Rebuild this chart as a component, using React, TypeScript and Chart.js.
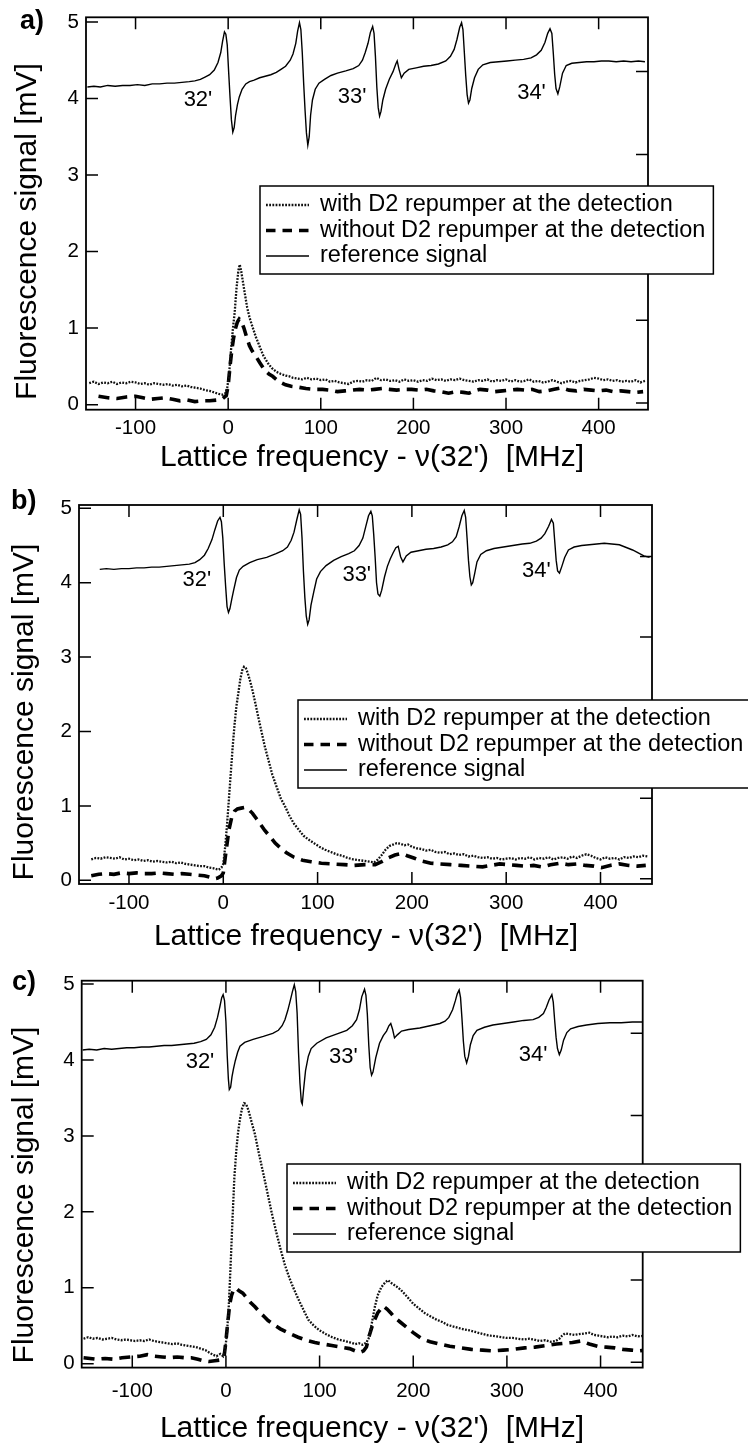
import React, { useEffect, useRef } from 'react';
import { Chart, registerables } from 'chart.js';

Chart.register(...registerables);

type Pt = [number, number];

// ---- axis ticks and legend text ----
const FREQ_TICKS = [-100, 0, 100, 200, 300, 400];
const SIGNAL_TICKS = [0, 1, 2, 3, 4, 5];
const REF_AXIS_TICKS = [0, 1, 2, 3, 4];
const REF_AXIS_ZERO = 0.02; // mV position of the reference axis zero
const REF_AXIS_UNIT = 1.083; // mV per reference-axis unit
const LEGEND_LABELS = [
  'with D2 repumper at the detection',
  'without D2 repumper at the detection',
  'reference signal',
];
const PEAK_LABELS = ["32'", "33'", "34'"];
const X_TITLE = "Lattice frequency - \u03bd(32')  [MHz]";
const Y_TITLE = 'Fluorescence signal [mV]';

// ---- panel a ----
const REF_A: Pt[] = [[-152,4.15],[-145,4.16],[-138,4.15],[-130,4.17],[-122,4.16],[-114,4.17],[-106,4.17],[-98,4.18],[-90,4.17],[-82,4.19],[-74,4.19],[-66,4.2],[-58,4.2],[-50,4.21],[-42,4.22],[-36,4.23],[-30,4.25],[-25,4.28],[-20,4.31],[-15,4.37],[-11,4.47],[-8,4.6],[-6,4.75],[-4,4.87],[-2.5,4.84],[-1,4.7],[0.5,4.35],[2,4.02],[3.5,3.72],[5,3.56],[6.5,3.62],[8,3.78],[10,3.92],[12,4.02],[15,4.12],[19,4.19],[23,4.22],[28,4.24],[34,4.27],[40,4.29],[46,4.31],[52,4.34],[57,4.38],[62,4.42],[67,4.5],[70,4.58],[73,4.72],[75,4.88],[77,4.99],[78.5,4.9],[80,4.6],[81.5,4.2],[83,3.85],[84.5,3.55],[86,3.39],[87.5,3.5],[89,3.78],[91,3.98],[94,4.12],[98,4.2],[104,4.25],[111,4.3],[118,4.33],[127,4.36],[135,4.39],[141,4.43],[145,4.5],[148,4.6],[151,4.72],[153.5,4.86],[156,4.94],[157.5,4.85],[159,4.55],[160.5,4.15],[162,3.88],[163.5,3.77],[165,3.83],[167,3.98],[170,4.12],[174,4.25],[178,4.35],[181,4.45],[182.5,4.49],[184.5,4.38],[187,4.27],[190,4.33],[195,4.38],[203,4.4],[211,4.42],[219,4.43],[227,4.45],[235,4.49],[240,4.55],[244,4.64],[247,4.77],[250,4.93],[252,4.99],[253.5,4.9],[255,4.6],[256.5,4.3],[258,4.05],[259.5,3.94],[261,3.98],[263,4.13],[266,4.27],[270,4.38],[275,4.44],[283,4.47],[292,4.48],[301,4.49],[310,4.5],[319,4.51],[327,4.53],[333,4.57],[338,4.63],[342,4.73],[345,4.85],[347.5,4.91],[349.5,4.85],[351,4.6],[352.5,4.32],[354,4.13],[356,4.06],[358,4.15],[361,4.33],[365,4.43],[371,4.46],[379,4.47],[387,4.48],[395,4.48],[403,4.49],[411,4.49],[419,4.48],[427,4.49],[435,4.48],[443,4.49],[450,4.48]];
const WITH_A: Pt[] = [[-150,0.28],[-145,0.3],[-140,0.27],[-135,0.29],[-130,0.28],[-125,0.3],[-120,0.27],[-115,0.29],[-110,0.28],[-105,0.3],[-100,0.29],[-95,0.27],[-90,0.28],[-85,0.26],[-80,0.28],[-75,0.27],[-70,0.26],[-65,0.27],[-60,0.25],[-55,0.26],[-50,0.24],[-45,0.25],[-40,0.23],[-35,0.22],[-30,0.21],[-25,0.19],[-20,0.18],[-15,0.16],[-10,0.14],[-6,0.13],[-3,0.15],[-1,0.22],[1,0.4],[3,0.7],[5,0.98],[7,1.2],[9,1.52],[11,1.75],[12.5,1.83],[14,1.75],[16,1.6],[18,1.45],[20.5,1.27],[23,1.14],[27,0.99],[30,0.88],[34,0.76],[38,0.64],[43,0.54],[47,0.48],[52,0.43],[57,0.4],[62,0.38],[66,0.37],[70,0.35],[75,0.34],[80,0.33],[85,0.35],[90,0.33],[95,0.34],[100,0.32],[105,0.33],[110,0.3],[115,0.31],[120,0.29],[125,0.28],[130,0.27],[135,0.3],[140,0.31],[145,0.3],[150,0.32],[155,0.31],[160,0.35],[165,0.32],[170,0.33],[175,0.31],[180,0.32],[185,0.3],[190,0.33],[195,0.31],[200,0.32],[205,0.3],[210,0.32],[215,0.31],[220,0.34],[225,0.32],[230,0.33],[235,0.31],[240,0.33],[245,0.32],[250,0.34],[255,0.32],[260,0.31],[265,0.3],[270,0.32],[275,0.31],[280,0.33],[285,0.3],[290,0.32],[295,0.31],[300,0.33],[305,0.3],[310,0.32],[315,0.3],[320,0.31],[325,0.33],[330,0.3],[335,0.31],[340,0.29],[345,0.3],[350,0.32],[355,0.3],[360,0.28],[365,0.3],[370,0.31],[375,0.29],[380,0.31],[385,0.32],[390,0.33],[395,0.35],[400,0.34],[405,0.32],[410,0.33],[415,0.31],[420,0.32],[425,0.3],[430,0.31],[435,0.3],[440,0.32],[445,0.29],[450,0.31]];
const WITHOUT_A: Pt[] = [[-140,0.11],[-130,0.09],[-120,0.08],[-110,0.1],[-100,0.11],[-92,0.09],[-84,0.07],[-76,0.08],[-68,0.09],[-60,0.07],[-52,0.05],[-44,0.06],[-36,0.04],[-28,0.05],[-20,0.05],[-12,0.06],[-6,0.08],[-2,0.12],[0,0.25],[2,0.5],[4,0.72],[6,0.88],[8,1.0],[10,1.08],[12,1.12],[14,1.1],[17,1.0],[20,0.88],[23,0.77],[26,0.7],[30,0.63],[34,0.55],[39,0.46],[44,0.4],[48,0.37],[53,0.32],[57,0.29],[62,0.26],[68,0.24],[75,0.23],[84,0.21],[93,0.2],[102,0.2],[110,0.19],[118,0.17],[126,0.18],[134,0.19],[142,0.2],[150,0.19],[158,0.2],[166,0.21],[174,0.2],[182,0.19],[190,0.2],[198,0.2],[206,0.19],[214,0.2],[222,0.18],[230,0.17],[238,0.15],[246,0.17],[254,0.16],[260,0.15],[266,0.18],[272,0.2],[280,0.19],[288,0.17],[296,0.18],[304,0.19],[312,0.2],[320,0.19],[328,0.2],[336,0.17],[344,0.18],[352,0.2],[360,0.22],[368,0.19],[376,0.18],[384,0.2],[392,0.19],[400,0.18],[408,0.19],[416,0.17],[424,0.18],[432,0.17],[440,0.16],[448,0.17]];
const PEAK_POS_A: Pt[] = [[-32.6,3.98],[133.7,4.02],[327.5,4.07]];

// ---- panel b ----
const REF_B: Pt[] = [[-131,4.18],[-124,4.19],[-116,4.18],[-108,4.19],[-100,4.19],[-92,4.2],[-84,4.2],[-76,4.21],[-68,4.21],[-60,4.22],[-52,4.23],[-44,4.24],[-36,4.25],[-30,4.27],[-25,4.31],[-20,4.37],[-16,4.46],[-12,4.58],[-9,4.71],[-6,4.83],[-3.5,4.88],[-2,4.82],[-0.5,4.6],[1,4.25],[2.5,3.95],[4,3.68],[5.5,3.6],[7,3.65],[9,3.78],[11,3.9],[14,4.07],[17,4.17],[21,4.22],[28,4.27],[36,4.31],[46,4.34],[56,4.39],[63,4.43],[68,4.48],[72,4.57],[75,4.68],[78,4.85],[80.5,4.98],[82,4.92],[83.5,4.6],[85,4.15],[86.5,3.8],[88,3.55],[89.5,3.44],[91,3.5],[93,3.7],[96,3.88],[99,4.05],[103,4.15],[109,4.23],[117,4.3],[125,4.35],[133,4.39],[139,4.43],[144,4.5],[148,4.6],[151,4.75],[154,4.9],[156.5,4.96],[158,4.9],[159.5,4.65],[161,4.35],[162.5,4.0],[164,3.85],[166,3.82],[168,3.9],[171,4.08],[174,4.22],[177,4.32],[180,4.4],[183,4.47],[185.5,4.49],[188,4.35],[190.5,4.28],[194,4.36],[199,4.41],[207,4.43],[215,4.45],[223,4.46],[231,4.48],[238,4.51],[243,4.55],[247,4.62],[250,4.75],[253,4.9],[255.5,4.97],[257,4.88],[258.5,4.6],[260,4.3],[261.5,4.08],[263,3.97],[264.5,4.0],[266.5,4.12],[269,4.28],[273,4.38],[279,4.43],[287,4.46],[297,4.48],[307,4.5],[317,4.52],[325,4.53],[332,4.56],[337,4.6],[341,4.66],[345,4.76],[348,4.85],[350,4.8],[351.5,4.55],[353,4.3],[354.5,4.16],[356.5,4.13],[359,4.22],[362,4.34],[366,4.44],[372,4.48],[380,4.5],[388,4.51],[396,4.52],[404,4.53],[412,4.52],[420,4.51],[428,4.47],[434,4.44],[440,4.4],[446,4.36],[452,4.34]];
const WITH_B: Pt[] = [[-140,0.28],[-135,0.3],[-130,0.29],[-125,0.31],[-120,0.3],[-115,0.29],[-110,0.31],[-105,0.28],[-100,0.29],[-95,0.27],[-90,0.28],[-85,0.26],[-80,0.27],[-75,0.25],[-70,0.26],[-65,0.25],[-60,0.24],[-55,0.25],[-50,0.23],[-45,0.24],[-40,0.22],[-35,0.21],[-30,0.2],[-25,0.19],[-20,0.19],[-15,0.17],[-10,0.16],[-5,0.14],[-2,0.17],[0,0.22],[2,0.45],[4,0.75],[6,1.1],[8,1.45],[10,1.8],[12,2.1],[14,2.35],[16,2.52],[18,2.7],[20,2.82],[22,2.87],[24,2.85],[26,2.78],[28,2.7],[31,2.55],[34,2.38],[37,2.2],[41,1.97],[44,1.8],[48,1.61],[52,1.42],[57,1.24],[61,1.1],[66,0.98],[70,0.87],[75,0.76],[80,0.68],[85,0.6],[90,0.55],[96,0.5],[102,0.45],[108,0.41],[114,0.38],[120,0.35],[126,0.33],[132,0.3],[138,0.28],[144,0.27],[150,0.26],[155,0.25],[160,0.24],[164,0.28],[168,0.34],[172,0.41],[176,0.46],[180,0.48],[184,0.5],[188,0.49],[192,0.47],[196,0.48],[200,0.45],[205,0.43],[210,0.42],[215,0.4],[220,0.41],[225,0.38],[230,0.37],[235,0.38],[240,0.35],[245,0.36],[250,0.34],[255,0.35],[260,0.32],[265,0.33],[270,0.31],[275,0.3],[280,0.31],[285,0.29],[290,0.3],[295,0.28],[300,0.29],[305,0.3],[310,0.28],[315,0.3],[320,0.29],[325,0.31],[330,0.28],[335,0.3],[340,0.29],[345,0.31],[350,0.28],[355,0.3],[360,0.31],[365,0.29],[370,0.32],[375,0.3],[380,0.33],[385,0.35],[390,0.33],[395,0.3],[400,0.28],[405,0.31],[410,0.29],[415,0.3],[420,0.28],[425,0.31],[430,0.3],[435,0.32],[440,0.31],[445,0.33],[450,0.32]];
const WITHOUT_B: Pt[] = [[-140,0.06],[-132,0.08],[-124,0.09],[-116,0.08],[-108,0.1],[-100,0.09],[-92,0.1],[-84,0.09],[-76,0.09],[-68,0.1],[-60,0.09],[-52,0.08],[-44,0.09],[-36,0.08],[-28,0.07],[-20,0.06],[-14,0.04],[-10,0.02],[-6,0.03],[-2,0.06],[0,0.1],[2,0.3],[4,0.49],[6,0.68],[9,0.85],[12,0.93],[15,0.96],[19,0.97],[23,0.98],[27,0.95],[31,0.9],[35,0.83],[39,0.76],[44,0.67],[50,0.58],[55,0.5],[61,0.43],[67,0.37],[75,0.31],[84,0.27],[93,0.25],[104,0.23],[116,0.22],[128,0.21],[139,0.2],[150,0.21],[161,0.21],[168,0.25],[175,0.3],[182,0.34],[189,0.36],[195,0.33],[202,0.3],[210,0.26],[220,0.23],[230,0.22],[241,0.21],[252,0.2],[263,0.19],[275,0.18],[284,0.2],[293,0.22],[302,0.21],[311,0.2],[320,0.19],[329,0.2],[338,0.18],[347,0.21],[357,0.23],[366,0.21],[375,0.22],[384,0.2],[393,0.19],[401,0.17],[410,0.2],[420,0.22],[430,0.2],[439,0.19],[448,0.2]];
const PEAK_POS_B: Pt[] = [[-28,4.04],[141.5,4.1],[332,4.16]];

// ---- panel c ----
const REF_C: Pt[] = [[-153,4.13],[-146,4.14],[-138,4.13],[-130,4.15],[-122,4.14],[-114,4.15],[-106,4.16],[-98,4.16],[-90,4.17],[-82,4.17],[-74,4.18],[-66,4.19],[-58,4.19],[-50,4.2],[-42,4.21],[-34,4.22],[-27,4.24],[-21,4.27],[-16,4.33],[-12,4.43],[-9,4.56],[-6.5,4.7],[-4.5,4.82],[-3,4.86],[-1.5,4.78],[0,4.5],[1.4,4.05],[2.6,3.75],[3.6,3.61],[5,3.64],[6.5,3.78],[8,3.88],[10,3.99],[12.5,4.1],[15,4.18],[20,4.23],[29,4.27],[40,4.31],[50,4.35],[56,4.39],[60,4.45],[63,4.53],[66,4.65],[68.5,4.77],[71,4.9],[73,4.99],[74.5,4.9],[76,4.62],[77.5,4.1],[79,3.7],[80.5,3.45],[81.5,3.42],[83,3.62],[85,3.86],[88,4.05],[91,4.15],[97,4.22],[107,4.29],[118,4.34],[129,4.39],[135,4.45],[139.5,4.53],[142.5,4.66],[145,4.83],[148,4.93],[149.5,4.85],[151,4.6],[152.5,4.2],[154,3.9],[155.5,3.8],[157,3.84],[160,4.03],[164,4.22],[168,4.32],[171.5,4.38],[174,4.45],[176,4.48],[178,4.4],[180,4.29],[183,4.33],[187.5,4.38],[195,4.4],[207,4.42],[218,4.45],[228.5,4.48],[234,4.51],[238,4.56],[242,4.66],[245,4.78],[247,4.87],[249,4.92],[250.5,4.82],[252,4.55],[253.5,4.25],[255,4.05],[257,3.96],[259,4.05],[261,4.2],[264,4.32],[268,4.39],[276,4.43],[285,4.46],[296,4.48],[307,4.5],[318,4.52],[328,4.53],[334,4.56],[339,4.61],[342,4.69],[345,4.79],[348,4.86],[349.5,4.76],[351,4.52],[352.5,4.3],[354,4.15],[356,4.07],[358,4.13],[360.5,4.26],[364,4.36],[368,4.41],[376,4.44],[385,4.46],[397,4.48],[410,4.49],[422,4.49],[434,4.5],[445,4.5]];
const WITH_C: Pt[] = [[-152,0.33],[-147,0.35],[-142,0.33],[-137,0.34],[-132,0.32],[-127,0.33],[-122,0.34],[-117,0.32],[-112,0.31],[-107,0.32],[-102,0.31],[-97,0.3],[-92,0.31],[-87,0.3],[-82,0.32],[-77,0.3],[-72,0.29],[-67,0.28],[-62,0.27],[-57,0.26],[-52,0.27],[-47,0.25],[-42,0.24],[-37,0.23],[-32,0.22],[-27,0.2],[-22,0.18],[-18,0.15],[-14,0.12],[-10,0.1],[-6,0.13],[-3,0.1],[-1,0.18],[1,0.38],[3,0.75],[5,1.3],[7,1.9],[9,2.45],[11,2.8],[13,3.05],[15,3.22],[17,3.35],[19.5,3.43],[21.5,3.42],[24,3.34],[27,3.2],[31,3.02],[35,2.78],[40,2.5],[44,2.27],[49,1.98],[54,1.72],[58.5,1.5],[63,1.3],[67.5,1.14],[72,1.0],[77,0.86],[82,0.73],[88,0.58],[94,0.5],[100,0.44],[107,0.39],[113.5,0.35],[120,0.32],[127,0.3],[133,0.28],[138,0.26],[142,0.27],[146,0.25],[150,0.28],[153,0.35],[156,0.55],[159,0.75],[162,0.9],[166,1.01],[170,1.07],[173,1.1],[177,1.06],[182,1.02],[187,0.97],[193,0.89],[200,0.79],[206,0.73],[212,0.67],[219,0.62],[225,0.58],[231,0.55],[237,0.51],[243,0.49],[249,0.47],[255,0.45],[260,0.44],[266,0.42],[272,0.4],[278,0.38],[283,0.37],[289,0.36],[295,0.35],[300,0.34],[306,0.34],[312,0.33],[318,0.32],[324,0.33],[329,0.32],[335,0.3],[341,0.31],[347,0.29],[352,0.3],[356,0.33],[359,0.37],[362,0.4],[367,0.39],[372,0.38],[377,0.39],[383,0.4],[388,0.41],[393,0.38],[398,0.37],[403,0.36],[408,0.35],[413,0.36],[418,0.35],[424,0.37],[429,0.36],[434,0.38],[440,0.36],[446,0.37],[450,0.38]];
const WITHOUT_C: Pt[] = [[-152,0.08],[-145,0.07],[-138,0.06],[-129,0.07],[-120,0.06],[-111,0.08],[-102,0.09],[-92,0.1],[-84,0.12],[-76,0.1],[-68,0.09],[-60,0.08],[-52,0.09],[-44,0.08],[-37,0.08],[-30,0.06],[-24,0.04],[-18,0.03],[-12,0.04],[-6,0.05],[-2,0.09],[0,0.3],[2,0.55],[4,0.78],[6,0.9],[8,0.97],[10.5,1.0],[14,0.96],[18,0.93],[22,0.87],[26,0.81],[31,0.75],[36,0.68],[41,0.62],[45,0.57],[52,0.51],[58,0.46],[66,0.41],[77,0.35],[86,0.31],[95,0.28],[104,0.26],[113,0.24],[122,0.22],[132,0.2],[138,0.17],[143,0.15],[147,0.17],[150,0.22],[153,0.37],[157,0.53],[162,0.67],[168,0.76],[172,0.72],[176,0.67],[180,0.61],[186,0.55],[193,0.48],[200,0.41],[209,0.33],[218,0.29],[228,0.26],[239,0.23],[251,0.21],[262,0.19],[274,0.18],[285,0.17],[296,0.18],[307,0.19],[319,0.21],[330,0.22],[342,0.24],[353,0.26],[361,0.27],[370,0.28],[379,0.3],[388,0.26],[397,0.23],[406,0.22],[415,0.21],[424,0.19],[433,0.18],[441,0.17],[448,0.18]];
const PEAK_POS_C: Pt[] = [[-27.7,3.98],[125.4,4.04],[328,4.07]];

// ---- layout ----
const PAGE_W = 748;
const FAMILY = "'Liberation Sans', Arial, Helvetica, sans-serif";
const TICK_LEN = 12;
const font = (size: number, bold = false) => `${bold ? 'bold ' : ''}${size}px ${FAMILY}`;

interface PanelCfg {
  label: string;
  canvasTop: number;
  canvasH: number;
  area: { left: number; right: number; top: number; bottom: number };
  xRange: [number, number];
  yRange: [number, number];
  ref: Pt[];
  withRep: Pt[];
  withoutRep: Pt[];
  peakPos: Pt[];
  legend: { left: number; top: number };
  yTitle: { x: number; y: number };
  xTitle: { x: number; y: number };
  tickPad: number;
  panelLabel: { x: number; y: number };
}

const PANELS: PanelCfg[] = [
  {
    label: 'a)', canvasTop: 0, canvasH: 480,
    area: { left: 86, right: 648, top: 17.3, bottom: 409.7 },
    xRange: [-153.5, 453.3], yRange: [-0.066, 5.06],
    ref: REF_A, withRep: WITH_A, withoutRep: WITHOUT_A, peakPos: PEAK_POS_A,
    legend: { left: 260, top: 186 }, yTitle: { x: 27.5, y: 231.5 }, xTitle: { x: 372, y: 458 },
    tickPad: 8, panelLabel: { x: 20, y: 22 },
  },
  {
    label: 'b)', canvasTop: 480, canvasH: 480,
    area: { left: 79, right: 652, top: 25, bottom: 404 },
    xRange: [-153, 454.6], yRange: [-0.05, 5.045],
    ref: REF_B, withRep: WITH_B, withoutRep: WITHOUT_B, peakPos: PEAK_POS_B,
    legend: { left: 298, top: 220 }, yTitle: { x: 24.5, y: 232 }, xTitle: { x: 366, y: 457 },
    tickPad: 9, panelLabel: { x: 11, y: 22 },
  },
  {
    label: 'c)', canvasTop: 960, canvasH: 485,
    area: { left: 81.7, right: 642.7, top: 20.7, bottom: 407.6 },
    xRange: [-154, 445], yRange: [-0.05, 5.043],
    ref: REF_C, withRep: WITH_C, withoutRep: WITHOUT_C, peakPos: PEAK_POS_C,
    legend: { left: 287, top: 204 }, yTitle: { x: 24.5, y: 235 }, xTitle: { x: 372, y: 469 },
    tickPad: 13, panelLabel: { x: 12, y: 23 },
  },
];

const WITH_STYLE = { color: '#111', width: 2.3, dash: [1.8, 1.4] };
const WITHOUT_STYLE = { color: '#000', width: 3.6, dash: [11, 7] };
const REF_STYLE = { color: '#000', width: 1.4, dash: [] as number[] };

const toXY = (pts: Pt[]) => pts.map(([x, y]) => ({ x, y }));

function makeDecor(cfg: PanelCfg) {
  return {
    id: 'panelDecor',
    afterDraw(chart: any) {
      const { ctx, chartArea: a, scales } = chart;
      const xs = scales.x, ys = scales.y, y2 = scales.y2;
      ctx.save();
      ctx.strokeStyle = '#000';
      ctx.fillStyle = '#000';

      // inward tick marks on all four sides
      ctx.lineWidth = 1.5;
      ctx.beginPath();
      for (const t of xs.ticks) {
        const px = xs.getPixelForValue(t.value);
        ctx.moveTo(px, a.bottom); ctx.lineTo(px, a.bottom - TICK_LEN);
        ctx.moveTo(px, a.top); ctx.lineTo(px, a.top + TICK_LEN);
      }
      for (const t of ys.ticks) {
        const py = ys.getPixelForValue(t.value);
        ctx.moveTo(a.left, py); ctx.lineTo(a.left + TICK_LEN, py);
      }
      for (const t of y2.ticks) {
        const py = y2.getPixelForValue(t.value);
        ctx.moveTo(a.right, py); ctx.lineTo(a.right - TICK_LEN, py);
      }
      ctx.stroke();

      // frame
      ctx.lineWidth = 1.8;
      ctx.strokeRect(a.left, a.top, a.right - a.left, a.bottom - a.top);

      // peak annotations
      ctx.font = font(22);
      ctx.textAlign = 'center';
      ctx.textBaseline = 'middle';
      cfg.peakPos.forEach(([vx, vy], i) => {
        ctx.fillText(PEAK_LABELS[i], xs.getPixelForValue(vx), ys.getPixelForValue(vy));
      });

      // legend
      ctx.font = font(23.5);
      const textW = Math.max(...LEGEND_LABELS.map((s) => ctx.measureText(s).width));
      const lx = cfg.legend.left, ly = cfg.legend.top;
      const bw = 60 + textW + 8, bh = 88;
      ctx.fillStyle = '#fff';
      ctx.fillRect(lx, ly, bw, bh);
      ctx.lineWidth = 1.5;
      ctx.strokeStyle = '#000';
      ctx.strokeRect(lx, ly, bw, bh);
      const rows = [19, 44.5, 70];
      const styles = [WITH_STYLE, WITHOUT_STYLE, REF_STYLE];
      rows.forEach((dy, i) => {
        const st = styles[i];
        const yy = ly + dy;
        ctx.save();
        ctx.strokeStyle = st.color;
        ctx.lineWidth = i === 2 ? 1.3 : st.width;
        ctx.setLineDash(i === 1 ? [9.5, 7] : st.dash);
        ctx.beginPath();
        ctx.moveTo(lx + 6, yy);
        ctx.lineTo(lx + 49, yy);
        ctx.stroke();
        ctx.restore();
        ctx.fillStyle = '#000';
        ctx.textAlign = 'left';
        ctx.textBaseline = 'middle';
        ctx.fillText(LEGEND_LABELS[i], lx + 60, yy);
      });

      // axis titles
      ctx.fillStyle = '#000';
      ctx.font = font(30);
      ctx.textAlign = 'center';
      ctx.textBaseline = 'middle';
      ctx.fillText(X_TITLE, cfg.xTitle.x, cfg.xTitle.y);
      ctx.save();
      ctx.translate(cfg.yTitle.x, cfg.yTitle.y);
      ctx.rotate(-Math.PI / 2);
      ctx.fillText(Y_TITLE, 0, 0);
      ctx.restore();

      // panel letter
      ctx.font = font(27, true);
      ctx.textAlign = 'left';
      ctx.fillText(cfg.label, cfg.panelLabel.x, cfg.panelLabel.y);
      ctx.restore();
    },
  };
}

function Panel({ cfg }: { cfg: PanelCfg }) {
  const ref = useRef<HTMLCanvasElement>(null);
  useEffect(() => {
    const canvas = ref.current;
    if (!canvas) return;
    const { area, canvasH } = cfg;
    const tickFont = { family: FAMILY, size: 20.5, lineHeight: 1 };
    const chart = new Chart(canvas, {
      type: 'scatter',
      data: {
        datasets: [
          {
            label: LEGEND_LABELS[2], data: toXY(cfg.ref), showLine: true, pointRadius: 0,
            borderColor: REF_STYLE.color, borderWidth: REF_STYLE.width, tension: 0,
          },
          {
            label: LEGEND_LABELS[0], data: toXY(cfg.withRep), showLine: true, pointRadius: 0,
            borderColor: WITH_STYLE.color, borderWidth: WITH_STYLE.width, borderDash: WITH_STYLE.dash, tension: 0,
          },
          {
            label: LEGEND_LABELS[1], data: toXY(cfg.withoutRep), showLine: true, pointRadius: 0,
            borderColor: WITHOUT_STYLE.color, borderWidth: WITHOUT_STYLE.width, borderDash: WITHOUT_STYLE.dash,
            borderCapStyle: 'butt', tension: 0,
          },
        ],
      } as any,
      options: {
        responsive: false,
        animation: false,
        devicePixelRatio: 1,
        events: [],
        layout: {
          padding: { left: 0, top: area.top, right: PAGE_W - area.right, bottom: 0 },
        },
        plugins: { legend: { display: false }, tooltip: { enabled: false }, title: { display: false } },
        scales: {
          x: {
            type: 'linear', position: 'bottom', min: cfg.xRange[0], max: cfg.xRange[1],
            grid: { display: false, drawTicks: false }, border: { display: false },
            ticks: { font: tickFont, color: '#000', padding: cfg.tickPad, maxRotation: 0, autoSkip: false },
            afterBuildTicks: (s: any) => { s.ticks = FREQ_TICKS.map((v) => ({ value: v })); },
            afterFit: (s: any) => { s.height = canvasH - area.bottom; },
          },
          y: {
            type: 'linear', position: 'left', min: cfg.yRange[0], max: cfg.yRange[1],
            grid: { display: false, drawTicks: false }, border: { display: false },
            ticks: { font: tickFont, color: '#000', padding: 7 },
            afterBuildTicks: (s: any) => { s.ticks = SIGNAL_TICKS.map((v) => ({ value: v })); },
            afterFit: (s: any) => { s.width = area.left; },
          },
          y2: {
            type: 'linear', position: 'right',
            min: (cfg.yRange[0] - REF_AXIS_ZERO) / REF_AXIS_UNIT,
            max: (cfg.yRange[1] - REF_AXIS_ZERO) / REF_AXIS_UNIT,
            grid: { display: false, drawTicks: false }, border: { display: false },
            ticks: { display: false },
            afterBuildTicks: (s: any) => { s.ticks = REF_AXIS_TICKS.map((v) => ({ value: v })); },
            afterFit: (s: any) => { s.width = 0; },
          },
        },
      } as any,
      plugins: [makeDecor(cfg)],
    });
    return () => chart.destroy();
  }, [cfg]);
  return (
    <canvas
      ref={ref}
      width={PAGE_W}
      height={cfg.canvasH}
      style={{ position: 'absolute', left: 0, top: cfg.canvasTop, display: 'block' }}
    />
  );
}

export default function App() {
  return (
    <div style={{ position: 'absolute', left: 0, top: 0, width: PAGE_W, height: 1445, background: '#fff' }}>
      {PANELS.map((p) => (
        <Panel key={p.label} cfg={p} />
      ))}
    </div>
  );
}
